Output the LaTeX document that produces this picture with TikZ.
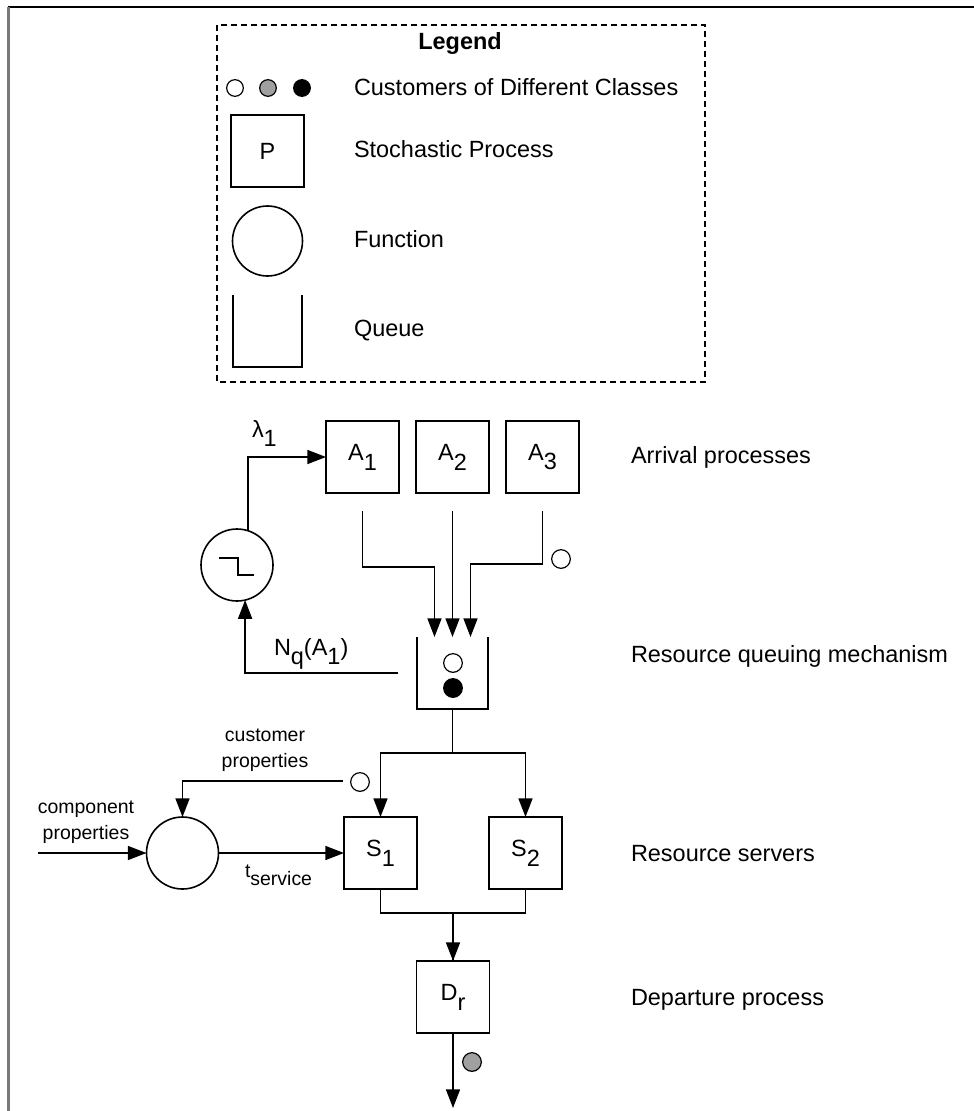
\documentclass[tikz,border=0pt]{standalone}
\usepackage{fontspec}
\setmainfont{Liberation Sans}
\usetikzlibrary{arrows.meta}
% subscripts in these labels are set almost at full size, dropped below the line
\newcommand\lowsub[1]{\raisebox{-0.42em}{#1}}
\definecolor{framegray}{RGB}{120,120,120}
\definecolor{classgray}{RGB}{160,160,160}

\begin{document}
\begin{tikzpicture}[x=0.75pt,y=-0.75pt,
  line width=1.2pt,
  every node/.style={inner sep=0pt, outer sep=0pt},
  big/.style={font=\fontsize{17.6}{21}\selectfont},
  small/.style={font=\fontsize{14.6}{19.5}\selectfont, align=center},
  arr/.style={-{Triangle[length=14pt,width=10.5pt]}},
  proc/.style={draw, minimum width=54.75pt, minimum height=54pt, big},
  func/.style={draw, circle, minimum size=54pt},
  cust/.style={draw, circle, minimum size=14pt, line width=0.9pt},
  lbl/.style={big, anchor=base west},
]
\useasboundingbox (0,0) rectangle (974,1111);

% page frame: top and left rules
\draw[line width=1.6pt] (8,7) -- (974,7);
\draw[line width=1.6pt, framegray] (8.5,7) -- (8.5,1111);

% ---------------- legend ----------------
\draw[line width=0.8pt, dash pattern=on 4.5pt off 3pt] (217,25) rectangle (705,382);
\node[font=\bfseries\fontsize{17.6}{21}\selectfont, anchor=base] (legtitle) at (460,49) {Legend};

\node[cust, fill=white, minimum size=12.5pt] (c1) at (235,88) {};
\node[cust, fill=classgray, minimum size=12.5pt] (c2) at (268,88) {};
\node[cust, fill=black, minimum size=12.5pt] (c3) at (302,88) {};
\node[lbl] (tcust) at (354,95) {Customers of Different Classes};

\node[proc] (legP) at (267.5,151) {P};
\node[lbl] (tproc) at (354,157) {Stochastic Process};

\node[draw, circle, minimum size=52.5pt] (legF) at (267.5,241) {};
\node[lbl] (tfunc) at (354,247) {Function};

\node[minimum width=51.75pt, minimum height=54pt] (legQ) at (267.5,331) {};
\draw (legQ.north west) -- (legQ.south west) -- (legQ.south east) -- (legQ.north east);
\node[lbl] (tqueue) at (354,336) {Queue};

% ---------------- arrival processes ----------------
\node[proc] (A1) at (362.5,457) {A\lowsub{1}};
\node[proc] (A2) at (452.5,457) {A\lowsub{2}};
\node[proc] (A3) at (542.5,457) {A\lowsub{3}};
\node[lbl] (tarr) at (631,463) {Arrival processes};

% rate-switching function
\node[func] (sw) at (237,565) {};
\draw (219,558) -- (238,558) -- (238,575) -- (254,575);
\draw[arr] (sw.72) |- (A1.west);
\node[big, anchor=base west] (lam) at (252,437) {λ\lowsub{1}};

% queue
\node[minimum width=53.25pt, minimum height=54pt] (queue) at (452.5,673) {};
\draw (queue.north west) -- (queue.south west) -- (queue.south east) -- (queue.north east);
\node[cust, fill=white] (qc1) at (453,663) {};
\node[cust, fill=black] (qc2) at (453,688) {};
\node[lbl] (tqm) at (631,662) {Resource queuing mechanism};

\draw[arr] ([yshift=-13.5pt]A1.south) -- ++(0,56) -| ([xshift=-13.5pt]queue.north);
\draw[arr] ([yshift=-13.5pt]A2.south) -- (queue.north);
\draw[arr] ([yshift=-13.5pt]A3.south) -- ++(0,53) -| ([xshift=13.5pt]queue.north);
\node[cust, fill=white] (a3c) at (561,559) {};

% queue length feedback
\coordinate (nqend) at (398,673);
\draw[arr] (nqend) -| (sw.-77);
\node[big, anchor=base west] (nq) at (274,655) {N\lowsub{q}(A\lowsub{1})};

% ---------------- servers ----------------
\node[proc] (S1) at (380.5,853) {S\lowsub{1}};
\node[proc] (S2) at (525.5,853) {S\lowsub{2}};
\node[lbl] (tsrv) at (631,861) {Resource servers};

\draw[arr] (queue.south) -- ++(0,44) -| (S1.north);
\draw[arr] (queue.south) -- ++(0,44) -| (S2.north);

% service-time function
\node[func] (fn) at (182.5,853) {};
\coordinate (cin) at (38,853);
\draw[arr] (cin) -- (fn.west);
\node[small, anchor=base] (tcomp) at (86,839) {component\\properties};
\draw[arr] (fn.east) -- (S1.west);
\node[small, anchor=base west] (tserv) at (245,877) {t\lowsub{service}};

\coordinate (cpstart) at (343,781);
\draw[arr] (cpstart) -| (fn.north);
\node[cust, fill=white] (cpc) at (360,782) {};
\node[small, anchor=base] (tcustp) at (265,767) {customer\\properties};

% ---------------- departure ----------------
\node[proc] (Dr) at (453,997) {D\lowsub{r}};
\node[lbl] (tdep) at (631,1005) {Departure process};
\draw[arr] (S1.south) -- ++(0,24) -| (Dr.north);
\draw (S2.south) -- ++(0,24) -| (Dr.north);
\coordinate (out) at (453,1108);
\draw[arr] (Dr.south) -- (out);
\node[cust, fill=classgray] (dc) at (472,1062) {};
\end{tikzpicture}
\end{document}
